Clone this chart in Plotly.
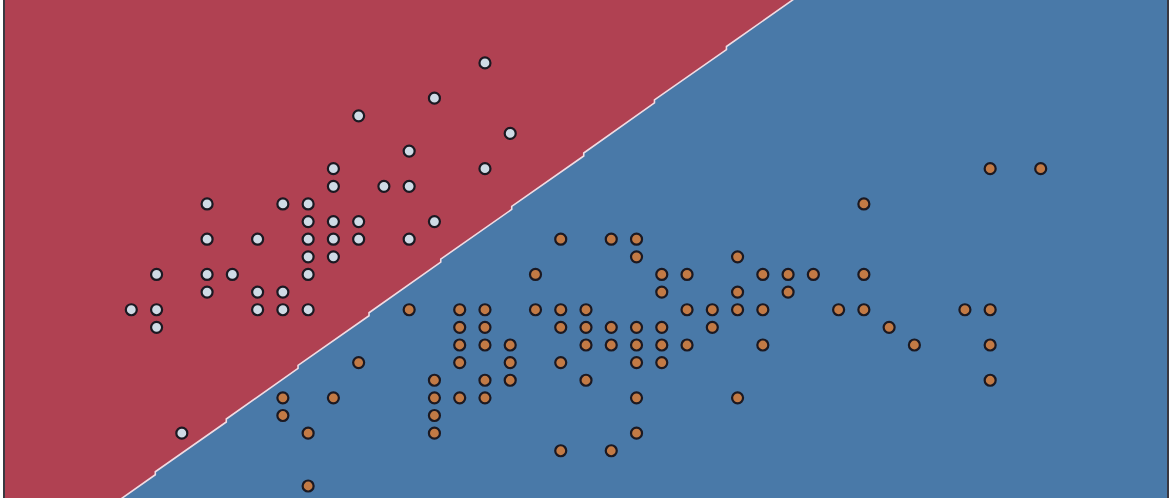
import plotly.graph_objects as go

# Class 0 (setosa) points: sepal length / sepal width
setosa_sl = [4.3, 4.4, 4.4, 4.4, 4.5, 4.6, 4.6, 4.6, 4.6, 4.7, 4.8, 4.8, 4.8, 4.9, 4.9, 4.9,
             5.0, 5.0, 5.0, 5.0, 5.0, 5.0, 5.1, 5.1, 5.1, 5.1, 5.1, 5.2, 5.2, 5.2, 5.3, 5.4,
             5.4, 5.4, 5.5, 5.5, 5.7, 5.7, 5.8]
setosa_sw = [3.0, 3.2, 3.0, 2.9, 2.3, 3.6, 3.4, 3.2, 3.1, 3.2, 3.4, 3.1, 3.0, 3.6, 3.1, 3.0,
             3.6, 3.5, 3.4, 3.3, 3.2, 3.0, 3.8, 3.7, 3.5, 3.4, 3.3, 4.1, 3.5, 3.4, 3.7, 3.9,
             3.7, 3.4, 4.2, 3.5, 4.4, 3.8, 4.0]

# Class 1 (other) points
other_sl = [7.7, 7.9,
            7.2,
            6.0, 6.2, 6.3,
            6.3, 6.7,
            5.9, 6.4, 6.5, 6.8, 6.9, 7.0, 7.2,
            6.4, 6.7, 6.9,
            5.4, 5.6, 5.7, 5.9, 6.0, 6.1, 6.5, 6.6, 6.7, 6.8, 7.1, 7.2, 7.6, 7.7,
            5.6, 5.7, 6.0, 6.1, 6.2, 6.3, 6.4, 6.6, 7.3,
            5.6, 5.7, 5.8, 6.1, 6.2, 6.3, 6.4, 6.5, 6.8, 7.4, 7.7,
            5.2, 5.6, 5.8, 6.0, 6.3, 6.4,
            5.5, 5.7, 5.8, 6.1, 7.7,
            4.9, 5.1, 5.5, 5.6, 5.7, 6.3, 6.7,
            4.9, 5.5,
            5.0, 5.5, 6.3,
            6.0, 6.2,
            5.0]
other_sw = [3.8, 3.8,
            3.6,
            3.4, 3.4, 3.4,
            3.3, 3.3,
            3.2, 3.2, 3.2, 3.2, 3.2, 3.2, 3.2,
            3.1, 3.1, 3.1,
            3.0, 3.0, 3.0, 3.0, 3.0, 3.0, 3.0, 3.0, 3.0, 3.0, 3.0, 3.0, 3.0, 3.0,
            2.9, 2.9, 2.9, 2.9, 2.9, 2.9, 2.9, 2.9, 2.9,
            2.8, 2.8, 2.8, 2.8, 2.8, 2.8, 2.8, 2.8, 2.8, 2.8, 2.8,
            2.7, 2.7, 2.7, 2.7, 2.7, 2.7,
            2.6, 2.6, 2.6, 2.6, 2.6,
            2.5, 2.5, 2.5, 2.5, 2.5, 2.5, 2.5,
            2.4, 2.4,
            2.3, 2.3, 2.3,
            2.2, 2.2,
            2.0]

# Decision boundary (staircase), data units
boundary_sl = [4.178, 4.395, 4.395, 4.676, 4.676, 4.960, 4.960, 5.241, 5.241, 5.525, 5.525,
               5.806, 5.806, 6.091, 6.091, 6.371, 6.371, 6.656, 6.656, 7.023]
boundary_sw = [1.845, 2.064, 2.081, 2.363, 2.380, 2.667, 2.684, 2.966, 2.983, 3.270, 3.287,
               3.569, 3.586, 3.872, 3.889, 4.173, 4.190, 4.476, 4.493, 4.863]

x_range = [3.8, 8.4]
y_range = [1.932, 4.757]

RED = "#B04152"
BLUE = "#4979A8"

fig = go.Figure()

# red region (upper-left of boundary)
red_x = boundary_sl + [2.5, 2.5]
red_y = boundary_sw + [boundary_sw[-1], boundary_sw[0]]
fig.add_trace(go.Scatter(x=red_x, y=red_y, mode="lines", fill="toself",
                         fillcolor=RED, line=dict(width=0, color=RED),
                         hoverinfo="skip", showlegend=False))

# boundary line
fig.add_trace(go.Scatter(x=boundary_sl, y=boundary_sw, mode="lines",
                         line=dict(color="#F1DCE3", width=1.6),
                         hoverinfo="skip", showlegend=False))

fig.add_trace(go.Scatter(x=setosa_sl, y=setosa_sw, mode="markers",
                         marker=dict(size=11, color="#CFDBE6",
                                     line=dict(color="#1B1922", width=2.2)),
                         showlegend=False))
fig.add_trace(go.Scatter(x=other_sl, y=other_sw, mode="markers",
                         marker=dict(size=11, color="#C27A45",
                                     line=dict(color="#1B1922", width=2.2)),
                         showlegend=False))

fig.update_layout(
    width=1171, height=498, autosize=False,
    margin=dict(l=5, r=4, t=0, b=0, pad=0),
    paper_bgcolor="white", plot_bgcolor=BLUE,
    xaxis=dict(range=x_range, showgrid=False, zeroline=False, showticklabels=False,
               ticks="", showline=False),
    yaxis=dict(range=y_range, showgrid=False, zeroline=False, showticklabels=False,
               ticks="", showline=True, mirror=True, linecolor="#3A3840", linewidth=2),
)

fig.write_html("out.html")
